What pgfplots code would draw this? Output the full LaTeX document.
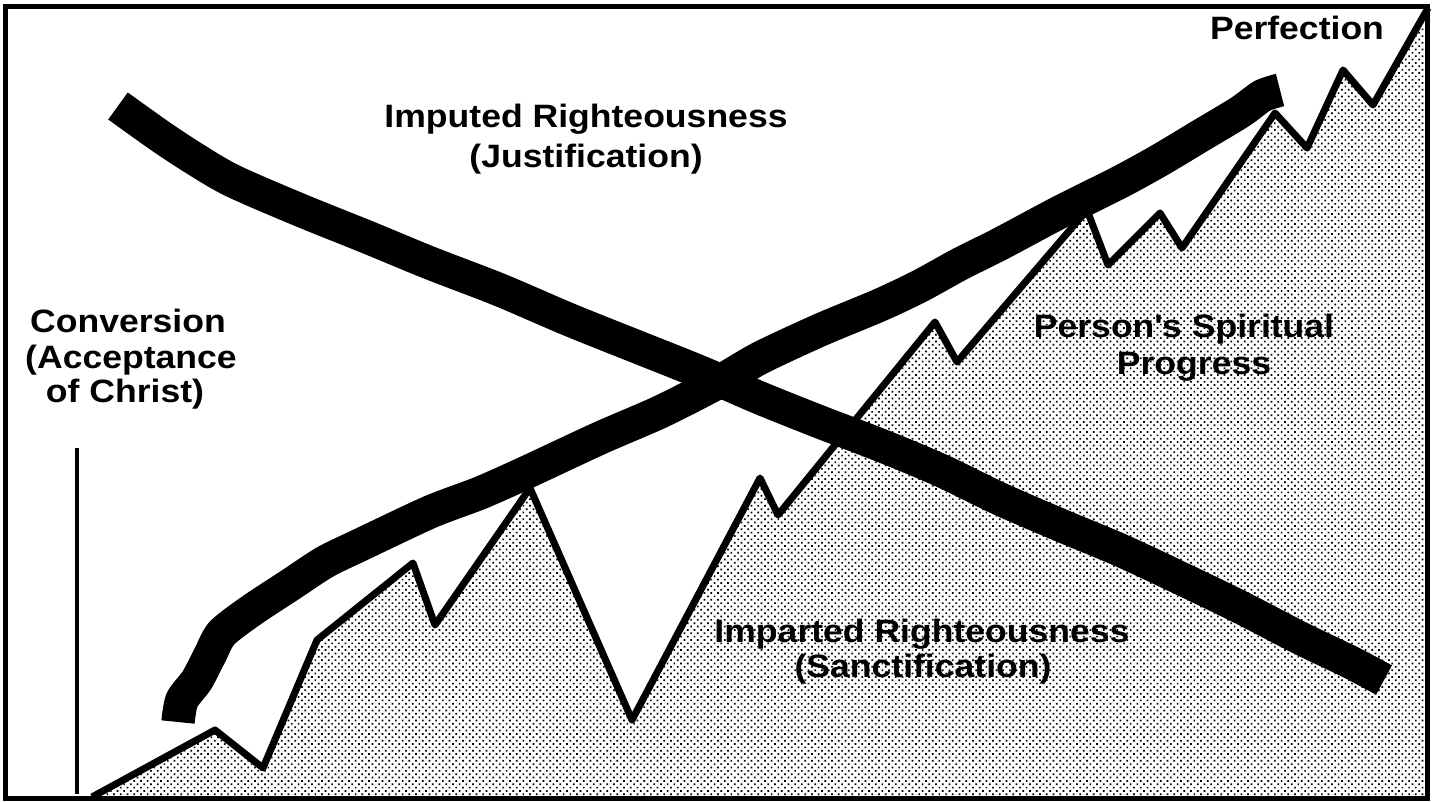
\documentclass[border=0pt]{standalone}
\usepackage{pgfplots}
\pgfplotsset{compat=1.18}
\usepackage{fontspec}
\setmainfont{Liberation Sans}[FakeStretch=1.1]
\usetikzlibrary{patterns.meta}
\begin{document}
\begin{tikzpicture}
\begin{axis}[
  width=14.37cm, height=8.01cm, scale only axis,
  xmin=0, xmax=1437, ymin=0, ymax=801, y dir=reverse,
  hide axis, clip=false,
]
% bounding
\addplot[draw=none] coordinates {(0,0) (1437,801)};
% progress area
\addplot[draw=none, pattern={Dots[distance=1.35pt, radius=0.34pt, angle=45]}, pattern color=black] coordinates {
(92,797) (215,730) (263,768) (317,640) (413,563) (435,625) (530,488) (632,720) (760,478) (778,515) (935,322) (957,362) (1087,210) (1108,265) (1160,213) (1182,248) (1275,113) (1307,148) (1343,70) (1373,105) (1428,8) (1428,797)} -- cycle;
% progress line
\addplot[black, line width=2pt, line join=round] coordinates {
(92,797) (215,730) (263,768) (317,640) (413,563) (435,625) (530,488) (632,720) (760,478) (778,515) (935,322) (957,362) (1087,210) (1108,265) (1160,213) (1182,248) (1275,113) (1307,148) (1343,70) (1373,105) (1428,8)};
% imputed (descending)
\addplot[black, line width=9.5pt, smooth, tension=0.5, line cap=butt] coordinates {
(118,106) (160,136) (195,159) (233,181) (300,210) (367,237) (430,263) (500,290) (570,320) (640,348) (700,372) (760,398) (820,422) (880,445) (940,470) (1000,499) (1060,525) (1120,550) (1180,578) (1240,607) (1300,638) (1350,662) (1384,680)};
% imparted (ascending)
\addplot[black, line width=9.5pt, smooth, tension=0.45, line cap=butt] coordinates {
(178,722) (182,700) (197,680) (210,655) (222,633) (252,610) (290,585) (325,562) (360,545) (430,512) (480,493) (525,473) (600,438) (660,412) (717,383) (760,358) (820,330) (880,305) (920,286) (960,264) (1000,244) (1060,212) (1120,182) (1160,160) (1200,136) (1240,112) (1262,96) (1280,90)};
% conversion line
\addplot[black, line width=1.35pt] coordinates {(77,448) (77,794)};
% frame
\addplot[black, line width=1.45pt] coordinates {(5.5,6.5) (1427.5,6.5) (1427.5,798.5) (5.5,798.5)} -- cycle;
% labels
\begin{scope}[every node/.style={anchor=base, inner sep=0pt, font=\fontsize{9.2}{11}\selectfont\bfseries}]
\node at (axis cs:1297,40) {Perfection};
\node at (axis cs:586,128) {Imputed Righteousness};
\node at (axis cs:586,167) {(Justification)};
\node at (axis cs:128,332) {Conversion};
\node at (axis cs:131,368) {(Acceptance};
\node at (axis cs:125,402) {of Christ)};
\node at (axis cs:1184,337) {Person\textquotesingle s Spiritual};
\node at (axis cs:1194,374) {Progress};
\node at (axis cs:922,642) {Imparted Righteousness};
\node at (axis cs:923,677) {(Sanctification)};
\end{scope}
\end{axis}
\end{tikzpicture}
\end{document}
